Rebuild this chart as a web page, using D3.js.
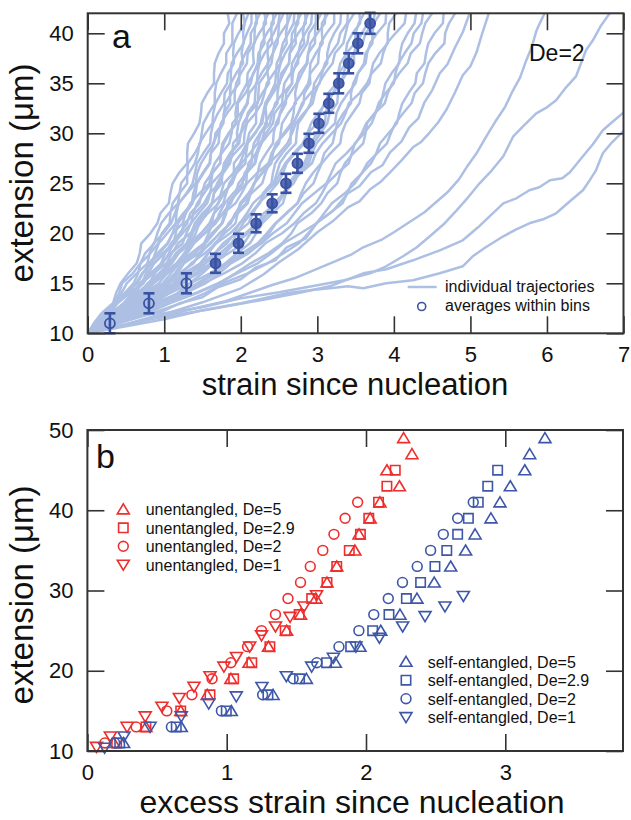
<!DOCTYPE html>
<html>
<head>
<meta charset="utf-8">
<script src="https://cdn.jsdelivr.net/npm/d3@7"></script>
<style>
body { margin: 0; background: #fff; }
text { font-family: "Liberation Sans", Arial, Helvetica, sans-serif; fill: #111; }
</style>
</head>
<body>
<script>
// ---- panel a : trajectories (strain read at each extension level, um) ----
var bundleExt = [10,11,12,13,14,15,16,17,18,19,20,21,22,23,24,25,26,27,28,29,30,31,32,33,34,35,36,37,38,39,40,41,42];
var bundleStrain = [
  [0,.08,.18,.33,.37,.43,.53,.64,.68,.70,.82,.91,.95,1.06,1.08,1.11,1.19,1.30,1.30,1.31,1.39,1.46,1.48,1.49,1.56,1.65,1.65,1.66,1.71,1.78,1.78,1.85,1.83],
  [0,.15,.25,.35,.48,.60,.66,.69,.82,.92,.97,1.07,1.08,1.11,1.20,1.30,1.30,1.31,1.40,1.47,1.49,1.51,1.58,1.66,1.66,1.68,1.74,1.81,1.81,1.89,1.89,1.89,1.95],
  [0,.09,.20,.34,.41,.45,.59,.69,.75,.87,.91,.96,1.06,1.18,1.20,1.22,1.32,1.40,1.44,1.46,1.54,1.63,1.64,1.67,1.74,1.82,1.83,1.91,1.90,1.91,1.97,2.05,2.03],
  [0,.15,.27,.34,.51,.63,.71,.84,.88,.93,1.04,1.15,1.16,1.19,1.29,1.37,1.40,1.43,1.51,1.60,1.61,1.64,1.70,1.78,1.79,1.87,1.87,1.88,1.95,2.04,2.03,2.05,2.10],
  [0,.13,.31,.47,.58,.73,.80,.86,.98,1.12,1.15,1.18,1.28,1.37,1.41,1.43,1.51,1.60,1.61,1.64,1.70,1.77,1.78,1.86,1.86,1.87,1.94,2.03,2.01,2.03,2.08,2.14,2.14],
  [0,.12,.22,.37,.44,.51,.64,.78,.81,.86,.99,1.09,1.14,1.19,1.30,1.41,1.43,1.48,1.56,1.65,1.67,1.77,1.78,1.80,1.88,1.98,1.98,2.00,2.06,2.13,2.13,2.21,2.20],
  [0,.17,.29,.39,.55,.71,.76,.81,.94,1.05,1.11,1.15,1.25,1.36,1.38,1.42,1.50,1.59,1.61,1.71,1.72,1.74,1.82,1.92,1.92,1.94,2.00,2.08,2.09,2.18,2.18,2.19,2.25],
  [0,.15,.33,.53,.62,.70,.86,.98,1.06,1.12,1.24,1.35,1.38,1.43,1.52,1.61,1.63,1.73,1.74,1.76,1.84,1.94,1.93,1.95,2.01,2.08,2.09,2.17,2.16,2.17,2.24,2.33,2.31],
  [0,.21,.37,.49,.69,.85,.96,1.04,1.18,1.32,1.37,1.43,1.52,1.62,1.65,1.75,1.76,1.78,1.86,1.96,1.95,1.97,2.02,2.09,2.10,2.09,2.17,2.22,2.23,2.31,2.30,2.30,2.36],
  [0,.14,.31,.47,.59,.68,.82,.96,1.01,1.09,1.20,1.30,1.34,1.46,1.49,1.53,1.62,1.73,1.74,1.78,1.85,1.94,1.96,1.96,2.06,2.13,2.16,2.25,2.25,2.27,2.34,2.43,2.42],
  [0,.14,.25,.34,.49,.65,.72,.80,.91,1.04,1.11,1.24,1.28,1.34,1.46,1.59,1.61,1.66,1.75,1.85,1.88,1.89,2.00,2.08,2.11,2.21,2.22,2.24,2.31,2.41,2.40,2.40,2.47],
  [0,.17,.36,.56,.68,.79,.93,1.07,1.15,1.29,1.35,1.40,1.50,1.63,1.65,1.69,1.77,1.86,1.89,1.90,2.00,2.07,2.09,2.18,2.19,2.20,2.27,2.36,2.35,2.35,2.43,2.49,2.51],
  [0,.22,.40,.56,.75,.93,1.04,1.20,1.28,1.35,1.48,1.62,1.65,1.70,1.79,1.88,1.91,1.91,2.01,2.08,2.11,2.20,2.20,2.21,2.28,2.37,2.35,2.35,2.42,2.48,2.49,2.50,2.56],
  [0,.16,.34,.52,.64,.80,.88,.96,1.09,1.24,1.29,1.35,1.45,1.56,1.60,1.62,1.74,1.83,1.87,1.98,2.00,2.03,2.11,2.22,2.23,2.24,2.33,2.40,2.42,2.44,2.52,2.61,2.61],
  [0,.26,.48,.72,.88,1.01,1.20,1.38,1.46,1.54,1.65,1.76,1.81,1.83,1.94,2.02,2.05,2.14,2.15,2.17,2.25,2.34,2.33,2.32,2.39,2.45,2.46,2.47,2.53,2.60,2.59,2.61,2.66],
  [0,.16,.27,.38,.54,.71,.78,.87,1.00,1.14,1.22,1.26,1.40,1.52,1.59,1.72,1.76,1.81,1.92,2.04,2.05,2.08,2.19,2.27,2.31,2.34,2.43,2.52,2.52,2.55,2.62,2.69,2.70],
  [0,.19,.40,.62,.74,.86,1.02,1.18,1.27,1.33,1.48,1.59,1.65,1.77,1.81,1.85,1.94,2.06,2.07,2.09,2.19,2.26,2.29,2.32,2.40,2.49,2.49,2.52,2.58,2.66,2.67,2.75,2.75],
  [0,.25,.44,.61,.81,1.01,1.14,1.22,1.40,1.53,1.62,1.75,1.79,1.84,1.95,2.07,2.08,2.10,2.20,2.27,2.30,2.32,2.39,2.48,2.48,2.50,2.56,2.63,2.64,2.72,2.71,2.72,2.79],
  [0,.18,.37,.57,.70,.78,.96,1.10,1.19,1.34,1.41,1.46,1.57,1.71,1.74,1.78,1.90,1.99,2.04,2.08,2.18,2.28,2.30,2.34,2.42,2.51,2.53,2.63,2.64,2.67,2.75,2.85,2.84],
  [0,.28,.52,.69,.95,1.15,1.30,1.48,1.58,1.66,1.79,1.93,1.96,1.99,2.10,2.18,2.22,2.25,2.33,2.42,2.43,2.46,2.52,2.59,2.59,2.67,2.66,2.67,2.74,2.83,2.81,2.83,2.88],
  [0,.19,.42,.63,.79,.98,1.09,1.19,1.35,1.52,1.58,1.63,1.76,1.87,1.93,1.97,2.07,2.18,2.20,2.25,2.33,2.42,2.44,2.54,2.55,2.57,2.65,2.75,2.75,2.78,2.84,2.92,2.93],
  [0,.16,.30,.49,.60,.70,.86,1.03,1.10,1.18,1.34,1.47,1.55,1.63,1.76,1.89,1.94,2.01,2.12,2.22,2.26,2.38,2.41,2.45,2.55,2.67,2.68,2.72,2.79,2.87,2.89,2.98,2.98],
  [0,.26,.48,.66,.89,1.12,1.24,1.35,1.53,1.67,1.77,1.84,1.96,2.09,2.13,2.18,2.27,2.37,2.40,2.50,2.52,2.54,2.62,2.72,2.71,2.74,2.80,2.87,2.88,2.97,2.97,2.98,3.05],
  [0,.19,.40,.63,.76,.86,1.04,1.19,1.30,1.39,1.53,1.67,1.72,1.79,1.90,2.02,2.07,2.19,2.22,2.27,2.37,2.49,2.51,2.56,2.64,2.73,2.76,2.86,2.88,2.91,3.00,3.10,3.10],
  [0,.31,.57,.77,1.04,1.25,1.41,1.54,1.73,1.88,1.95,2.03,2.14,2.25,2.29,2.40,2.42,2.45,2.54,2.65,2.65,2.68,2.75,2.82,2.83,2.91,2.90,2.91,2.98,3.07,3.06,3.06,3.14],
  [0,.21,.46,.69,.87,1.01,1.20,1.38,1.48,1.59,1.73,1.86,1.93,2.07,2.12,2.17,2.28,2.40,2.42,2.47,2.56,2.66,2.69,2.70,2.80,2.88,2.91,3.01,3.02,3.04,3.12,3.22,3.22],
  [0,.27,.52,.72,.97,1.20,1.35,1.49,1.66,1.82,1.92,1.98,2.13,2.24,2.31,2.43,2.47,2.51,2.60,2.72,2.73,2.75,2.84,2.91,2.94,2.96,3.04,3.13,3.13,3.16,3.22,3.30,3.31],
  [0,.16,.34,.55,.68,.82,.99,1.16,1.26,1.35,1.53,1.67,1.77,1.93,2.01,2.08,2.21,2.36,2.41,2.46,2.58,2.69,2.75,2.80,2.91,3.03,3.06,3.10,3.18,3.27,3.30,3.39,3.40],
  [0,.25,.45,.63,.85,1.04,1.17,1.26,1.45,1.61,1.72,1.87,1.93,2.01,2.14,2.28,2.32,2.37,2.50,2.61,2.67,2.72,2.82,2.94,2.97,3.02,3.10,3.20,3.23,3.34,3.37,3.40,3.48],
  [0,.31,.64,.94,1.17,1.34,1.60,1.80,1.95,2.12,2.20,2.28,2.41,2.55,2.59,2.62,2.73,2.83,2.88,2.91,3.00,3.10,3.11,3.14,3.20,3.27,3.28,3.37,3.37,3.39,3.46,3.56,3.55],
  [0,.28,.52,.70,.97,1.18,1.34,1.54,1.66,1.77,1.94,2.10,2.16,2.23,2.37,2.48,2.55,2.60,2.71,2.83,2.87,2.92,3.01,3.11,3.14,3.25,3.27,3.30,3.38,3.49,3.50,3.54,3.61],
  [0,.27,.58,.85,1.07,1.33,1.50,1.64,1.84,2.04,2.13,2.21,2.37,2.49,2.57,2.63,2.74,2.86,2.90,2.95,3.04,3.13,3.16,3.26,3.27,3.30,3.38,3.48,3.48,3.51,3.58,3.66,3.68],
  [0,.26,.49,.75,.92,1.06,1.26,1.47,1.57,1.68,1.86,1.99,2.08,2.16,2.30,2.45,2.51,2.58,2.69,2.81,2.87,3.00,3.04,3.09,3.20,3.32,3.34,3.39,3.48,3.59,3.63,3.73,3.75],
  [0,.37,.69,.95,1.26,1.54,1.72,1.87,2.10,2.26,2.37,2.46,2.60,2.74,2.79,2.85,2.94,3.05,3.09,3.20,3.23,3.26,3.34,3.44,3.44,3.47,3.53,3.61,3.63,3.72,3.72,3.74,3.82],
  [0,.27,.56,.86,1.05,1.21,1.45,1.64,1.79,1.92,2.10,2.26,2.34,2.43,2.56,2.69,2.76,2.89,2.93,2.99,3.10,3.23,3.25,3.31,3.40,3.50,3.53,3.63,3.65,3.69,3.78,3.89,3.90],
  [0,.34,.63,.87,1.18,1.43,1.64,1.80,2.02,2.22,2.34,2.45,2.59,2.74,2.82,2.95,3.00,3.06,3.17,3.30,3.32,3.37,3.46,3.55,3.58,3.68,3.70,3.73,3.81,3.92,3.92,3.94,4.03],
  [0,.25,.54,.80,1.02,1.18,1.40,1.61,1.74,1.88,2.06,2.21,2.30,2.47,2.55,2.64,2.78,2.93,2.98,3.07,3.19,3.31,3.37,3.41,3.55,3.65,3.71,3.83,3.86,3.91,4.02,4.14,4.16],
  [0,.40,.77,1.07,1.42,1.72,1.93,2.13,2.36,2.54,2.66,2.74,2.92,3.05,3.13,3.26,3.30,3.36,3.47,3.60,3.63,3.65,3.75,3.83,3.86,3.89,3.97,4.07,4.08,4.11,4.18,4.27,4.29],
  [0,.33,.69,1.03,1.28,1.51,1.78,2.02,2.19,2.32,2.54,2.70,2.82,2.98,3.06,3.13,3.26,3.41,3.45,3.49,3.61,3.71,3.76,3.80,3.89,4.00,4.02,4.06,4.14,4.23,4.26,4.36,4.38],
  [0,.35,.65,.91,1.21,1.47,1.67,1.82,2.07,2.27,2.42,2.60,2.70,2.80,2.96,3.12,3.18,3.24,3.38,3.50,3.58,3.64,3.75,3.88,3.92,3.98,4.07,4.18,4.22,4.34,4.37,4.41,4.50],
  [0,.41,.84,1.22,1.53,1.76,2.09,2.35,2.56,2.76,2.88,2.99,3.16,3.33,3.39,3.45,3.58,3.70,3.77,3.82,3.93,4.04,4.07,4.11,4.19,4.28,4.30,4.40,4.42,4.45,4.53,4.64,4.65],
  [0,.39,.75,1.03,1.40,1.70,1.95,2.22,2.40,2.56,2.78,2.99,3.09,3.19,3.36,3.49,3.58,3.65,3.78,3.91,3.96,4.02,4.12,4.23,4.27,4.38,4.41,4.45,4.54,4.66,4.67,4.72,4.80]
];
// slower trajectories, read as [strain, extension] points
var slowTraj = [
  [[0,10],[0.35,10.9],[0.6,11.6],[0.95,12.1],[1.2,13],[1.5,13.6],[1.7,14.6],[2.0,15.4],[2.2,16.6],[2.45,17.3],[2.6,18.6],[2.85,19.5],[3.0,21.1],[3.2,22.2],[3.4,24],[3.55,24.7],[3.7,26.1],[3.85,26.8],[3.95,28.1],[4.1,29.2],[4.2,30.6],[4.32,31.5],[4.4,33.1],[4.5,34.3],[4.6,36],[4.7,36.9],[4.8,38.6],[4.9,40.1],[4.99,42]],
  [[0,10],[0.5,10.8],[1.0,11.9],[1.5,13.1],[2.0,14.5],[2.3,15.9],[2.5,17.1],[2.75,18.4],[3.0,20.1],[3.2,21.2],[3.4,22.6],[3.55,23.2],[3.69,24.4],[3.82,25.1],[3.95,26.1],[4.1,27.3],[4.25,28.6],[4.35,29.1],[4.47,30.1],[4.58,31.1],[4.69,32.4],[4.8,34.1],[4.9,35.8],[5.0,36.7],[5.08,38.1],[5.15,39.9],[5.24,42]],
  [[0,10],[0.6,11],[1.0,11.7],[1.4,12.5],[1.8,13.2],[2.1,14],[2.4,14.8],[2.7,15.5],[2.95,16.3],[3.2,17.1],[3.45,17.9],[3.6,18.6],[3.85,19.4],[4.0,20.1],[4.2,21.1],[4.4,22.1],[4.55,23.1],[4.7,24.1],[4.85,25.4],[4.95,26.6],[5.08,28],[5.2,29.6],[5.32,31.1],[5.45,32.6],[5.55,34.2],[5.65,35.6],[5.72,37.1],[5.8,38.6],[5.86,40.2],[5.9,40.9],[5.97,42]],
  [[0,10],[0.5,10.9],[1.0,12.0],[1.5,12.6],[2.0,13.5],[2.5,14.1],[3.0,14.8],[3.35,15.3],[3.69,16],[3.9,16.7],[4.12,17.7],[4.3,18.6],[4.47,19.7],[4.65,20.9],[4.82,22.3],[4.97,23.6],[5.12,25],[5.28,26.3],[5.43,27.7],[5.56,29.7],[5.7,30.8],[5.86,32],[6.0,32.6],[6.12,33.3],[6.25,34.6],[6.38,35.7],[6.45,37.1],[6.51,38.3],[6.6,39.3],[6.7,40.7],[6.82,42]],
  [[0,10],[0.8,11.4],[1.6,12.4],[2.4,13.5],[2.8,14.1],[3.16,14.7],[3.4,15.4],[3.6,16],[3.9,16.4],[4.25,17.3],[4.6,18.3],[4.9,19.3],[5.1,20.6],[5.25,21.7],[5.43,23],[5.6,23.5],[5.77,24.3],[5.9,24.6],[6.04,25.3],[6.2,25.5],[6.3,26.1],[6.47,27.7],[6.6,28.9],[6.73,30.3],[6.85,31.1],[7.05,32.4]],
  [[0,10],[1.0,11.4],[1.5,12.3],[2.0,13.0],[2.6,14.0],[2.9,14.3],[3.16,14.5],[3.4,14.7],[3.6,14.5],[3.9,15.0],[4.25,15.3],[4.45,15.7],[4.6,16],[4.9,16.7],[5.03,17.7],[5.2,18.6],[5.43,19.7],[5.6,20.4],[5.77,21],[5.95,21.4],[6.12,22],[6.3,23.2],[6.47,24.3],[6.55,25.2],[6.64,26.3],[6.73,28],[6.85,29.1],[7.05,30.6]]
];
// averages within bins
var avgStrain = [0.29, 0.80, 1.29, 1.67, 1.97, 2.20, 2.41, 2.59, 2.74, 2.89, 3.02, 3.15, 3.28, 3.41, 3.53, 3.69];
var avgExt    = [11, 13, 15, 17, 19, 21, 23, 25, 27, 29, 31, 33, 35, 37, 39, 41];
var avgErr    = [1.0, 1.0, 1.0, 0.95, 0.95, 0.9, 0.9, 0.95, 0.95, 0.95, 0.95, 0.95, 1.0, 1.0, 1.0, 1.05];

// ---- panel b : [excess strain, extension] ----
var unent5  = [[0.19,11],[0.42,13],[0.67,15],[0.86,17],[1.03,19],[1.16,21],[1.30,23],[1.43,25],[1.53,27],[1.64,29],[1.72,31],[1.79,33],[1.92,35],[1.95,37],[2.03,39],[2.10,41],[2.24,43],[2.15,45],[2.33,47],[2.27,49]];
var unent29 = [[0.21,11],[0.42,13],[0.67,15],[0.88,17],[1.05,19],[1.18,21],[1.31,23],[1.42,25],[1.52,27],[1.61,29],[1.72,31],[1.79,33],[1.88,35],[1.96,37],[2.02,39],[2.09,41],[2.15,43],[2.21,45]];
var unent2  = [[0.125,11],[0.35,13],[0.57,15],[0.75,17],[0.895,19],[1.03,21],[1.15,23],[1.25,25],[1.35,27],[1.44,29],[1.53,31],[1.60,33],[1.69,35],[1.77,37],[1.85,39],[1.94,41]];
var unent1  = [[0.065,10.5],[0.165,11.8],[0.285,13.0],[0.415,14.3],[0.535,15.5],[0.66,16.6],[0.765,18.0],[0.88,19.3],[0.98,20.5],[1.07,21.7],[1.165,23.0],[1.25,24.4],[1.35,25.5],[1.455,26.7],[1.555,28.0],[1.645,29.4]];
var self5   = [[0.26,11],[0.674,13],[1.033,15],[1.333,17],[1.572,19],[1.78,21],[1.957,23],[2.106,25],[2.244,27],[2.366,29],[2.49,31],[2.608,33],[2.715,35],[2.783,37],[2.897,39],[2.962,41],[3.036,43],[3.14,45],[3.175,47],[3.285,49]];
var self29  = [[0.232,11],[0.638,13],[0.997,15],[1.296,17],[1.523,19],[1.717,21],[1.89,23],[2.048,25],[2.165,27],[2.29,29],[2.392,31],[2.495,33],[2.58,35],[2.658,37],[2.735,39],[2.806,41],[2.874,43],[2.945,45]];
var self2   = [[0.196,11],[0.603,13],[0.962,15],[1.258,17],[1.477,19],[1.647,21],[1.806,23],[1.949,25],[2.056,27],[2.16,29],[2.262,31],[2.368,33],[2.464,35],[2.555,37],[2.658,39],[2.77,41]];
var self1   = [[0.124,10.4],[0.263,11.8],[0.45,13.0],[0.674,14.3],[0.871,15.9],[1.069,16.8],[1.253,17.96],[1.428,19.3],[1.61,20.5],[1.766,21.6],[1.928,23.0],[2.096,24.1],[2.263,25.5],[2.424,26.8],[2.567,28.0],[2.699,29.3]];

var unentLabels = ["unentangled, De=5", "unentangled, De=2.9", "unentangled, De=2", "unentangled, De=1"];
var selfLabels  = ["self-entangled, De=5", "self-entangled, De=2.9", "self-entangled, De=2", "self-entangled, De=1"];
var shapes = ["up", "square", "circle", "down"];

var ticksAx = [0, 1, 2, 3, 4, 5, 6, 7];
var ticksAy = [10, 15, 20, 25, 30, 35, 40];
var ticksBx = [0, 1, 2, 3];
var ticksBy = [10, 20, 30, 40, 50];

// ---------------------------------------------------------------
var w = 631, h = 820;
var lineCol = "#adc0e4", avgCol = "#3a52a3", red = "#ee2d2d", blue = "#3d57a8", frameCol = "#333";
var tickLen = 17;

var svg = d3.select("body").append("svg").attr("width", w).attr("height", h);

function symPath(t) {
  if (t == "up") return "M0,-5.4L6,4.6L-6,4.6Z";
  if (t == "down") return "M0,5.4L6,-4.6L-6,-4.6Z";
  if (t == "square") return "M-4.7,-4.7H4.7V4.7H-4.7Z";
  return "M4.9,0A4.9,4.9 0 1,1 -4.9,0A4.9,4.9 0 1,1 4.9,0Z";
}

function frame(g, x, y, xt, yt, labelSize) {
  var x0 = x.range()[0], x1 = x.range()[1], y0 = y.range()[0], y1 = y.range()[1];
  var fmt = d3.format("d");
  g.append("g").attr("transform", "translate(0," + y0 + ")")
    .call(d3.axisBottom(x).tickValues(xt).tickFormat(fmt).tickSizeInner(-tickLen).tickSizeOuter(0).tickPadding(13));
  g.append("g").attr("transform", "translate(0," + y1 + ")")
    .call(d3.axisTop(x).tickValues(xt).tickSizeInner(-tickLen).tickSizeOuter(0).tickFormat(""));
  g.append("g").attr("transform", "translate(" + x0 + ",0)")
    .call(d3.axisLeft(y).tickValues(yt).tickFormat(fmt).tickSizeInner(-tickLen).tickSizeOuter(0).tickPadding(14));
  g.append("g").attr("transform", "translate(" + x1 + ",0)")
    .call(d3.axisRight(y).tickValues(yt).tickSizeInner(-tickLen).tickSizeOuter(0).tickFormat(""));
  g.selectAll(".domain").remove();
  g.selectAll(".tick line").attr("stroke", frameCol).attr("stroke-width", 1.6);
  g.selectAll(".tick text").attr("font-size", labelSize).attr("fill", "#111")
    .style("font-family", '"Liberation Sans", Arial, sans-serif');
  g.append("rect").attr("x", x0).attr("y", y1).attr("width", x1 - x0).attr("height", y0 - y1)
    .attr("fill", "none").attr("stroke", frameCol).attr("stroke-width", 2);
}

// ---------------- panel a ----------------
var xa = d3.scaleLinear().domain([0, 7]).range([87.7, 623.5]);
var ya = d3.scaleLinear().domain([10, 42]).range([333.3, 13.3]);

svg.append("clipPath").attr("id", "clipA").append("rect")
  .attr("x", 87.7).attr("y", 13.3).attr("width", 623.5 - 87.7).attr("height", 320);

var ga = svg.append("g").attr("clip-path", "url(#clipA)");
var lineA = d3.line().x(function(d) { return xa(d[0]); }).y(function(d) { return ya(d[1]); });

bundleStrain.forEach(function(s) {
  ga.append("path")
    .attr("d", lineA(s.map(function(v, i) { return [v, bundleExt[i]]; })))
    .attr("fill", "none").attr("stroke", lineCol).attr("stroke-width", 2.5).attr("stroke-linejoin", "round");
});
slowTraj.forEach(function(t) {
  ga.append("path").attr("d", lineA(t))
    .attr("fill", "none").attr("stroke", lineCol).attr("stroke-width", 2.5).attr("stroke-linejoin", "round");
});

var avg = avgStrain.map(function(s, i) { return { x: s, y: avgExt[i], e: avgErr[i] }; });
var eb = svg.append("g").attr("stroke", avgCol).attr("stroke-width", 2.6);
avg.forEach(function(d) {
  eb.append("line").attr("x1", xa(d.x)).attr("x2", xa(d.x)).attr("y1", ya(d.y - d.e)).attr("y2", ya(d.y + d.e));
  eb.append("line").attr("x1", xa(d.x) - 5.5).attr("x2", xa(d.x) + 5.5).attr("y1", ya(d.y - d.e)).attr("y2", ya(d.y - d.e));
  eb.append("line").attr("x1", xa(d.x) - 5.5).attr("x2", xa(d.x) + 5.5).attr("y1", ya(d.y + d.e)).attr("y2", ya(d.y + d.e));
});
svg.append("g").selectAll("circle").data(avg).enter().append("circle")
  .attr("cx", function(d) { return xa(d.x); })
  .attr("cy", function(d) { return ya(d.y); })
  .attr("r", 5)
  .attr("fill", function(d, i) { return i < 3 ? "none" : avgCol; })
  .attr("fill-opacity", 0.85)
  .attr("stroke", avgCol).attr("stroke-width", 1.8);

frame(svg.append("g"), xa, ya, ticksAx, ticksAy, 22);

svg.append("text").attr("x", 112).attr("y", 48).attr("font-size", 34).text("a");
svg.append("text").attr("x", 529).attr("y", 61).attr("font-size", 23).text("De=2");

// legend a
svg.append("line").attr("x1", 407.7).attr("x2", 436.7).attr("y1", 287).attr("y2", 287)
  .attr("stroke", lineCol).attr("stroke-width", 2.5);
svg.append("circle").attr("cx", 421.7).attr("cy", 306.5).attr("r", 4)
  .attr("fill", "none").attr("stroke", avgCol).attr("stroke-width", 1.6);
svg.append("text").attr("x", 445).attr("y", 292).attr("font-size", 16).text("individual trajectories");
svg.append("text").attr("x", 445).attr("y", 311).attr("font-size", 16).text("averages within bins");

svg.append("text").attr("x", 355).attr("y", 395).attr("text-anchor", "middle").attr("font-size", 31)
  .text("strain since nucleation");
svg.append("text").attr("transform", "translate(33,173) rotate(-90)").attr("text-anchor", "middle")
  .attr("font-size", 33).text("extension (\u03bcm)");

// ---------------- panel b ----------------
var xb = d3.scaleLinear().domain([0, 3.845]).range([87.4, 623]);
var yb = d3.scaleLinear().domain([10, 50]).range([751, 430]);

var seriesB = [
  { pts: unent1, shape: "down", col: red }, { pts: unent2, shape: "circle", col: red },
  { pts: unent29, shape: "square", col: red }, { pts: unent5, shape: "up", col: red },
  { pts: self1, shape: "down", col: blue }, { pts: self2, shape: "circle", col: blue },
  { pts: self29, shape: "square", col: blue }, { pts: self5, shape: "up", col: blue }
];
var gb = svg.append("g");
seriesB.forEach(function(s) {
  gb.append("g").selectAll("path").data(s.pts).enter().append("path")
    .attr("transform", function(d) { return "translate(" + xb(d[0]) + "," + yb(d[1]) + ")"; })
    .attr("d", symPath(s.shape))
    .attr("fill", "none").attr("stroke", s.col).attr("stroke-width", 1.6);
});

frame(svg.append("g"), xb, yb, ticksBx, ticksBy, 22);

svg.append("text").attr("x", 96).attr("y", 468).attr("font-size", 34).text("b");

var legUn = svg.append("g").attr("transform", "translate(123.3,509.3)");
var legSe = svg.append("g").attr("transform", "translate(406,661.7)");
unentLabels.forEach(function(l, i) {
  legUn.append("path").attr("transform", "translate(0," + (i * 18.5) + ")").attr("d", symPath(shapes[i]))
    .attr("fill", "none").attr("stroke", red).attr("stroke-width", 1.6);
  legUn.append("text").attr("x", 22.4).attr("y", i * 18.5 + 6).attr("font-size", 16).text(l);
});
selfLabels.forEach(function(l, i) {
  legSe.append("path").attr("transform", "translate(0," + (i * 18.5) + ")").attr("d", symPath(shapes[i]))
    .attr("fill", "none").attr("stroke", blue).attr("stroke-width", 1.6);
  legSe.append("text").attr("x", 21.7).attr("y", i * 18.5 + 6).attr("font-size", 16).text(l);
});

svg.append("text").attr("x", 352).attr("y", 813).attr("text-anchor", "middle").attr("font-size", 32)
  .text("excess strain since nucleation");
svg.append("text").attr("transform", "translate(33,595) rotate(-90)").attr("text-anchor", "middle")
  .attr("font-size", 33).text("extension (\u03bcm)");
</script>
</body>
</html>
